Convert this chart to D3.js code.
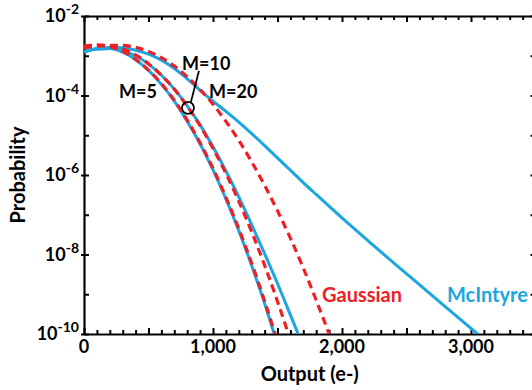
<!DOCTYPE html>
<html>
<head>
<meta charset="utf-8">
<script src="https://cdn.jsdelivr.net/npm/d3@7"></script>
<style>
  body { margin: 0; background: #fff; }
  text { font-family: Lato, "Open Sans", sans-serif; font-weight: 700; }
</style>
</head>
<body>
<div id="chart"></div>
<script>
// [output (e-), log10 probability]
const gaussM5 = [[0,-2.76],[100,-2.73],[200,-2.77],[300,-2.89],[400,-3.09],[500,-3.36],[600,-3.70],[700,-4.12],[800,-4.62],[900,-5.19],[1000,-5.83],[1100,-6.56],[1200,-7.35],[1300,-8.22],[1400,-9.17],[1490,-10.09]];
const gaussM10 = [[0,-2.78],[100,-2.73],[200,-2.75],[300,-2.83],[400,-2.98],[500,-3.20],[600,-3.49],[700,-3.84],[800,-4.27],[900,-4.76],[1000,-5.33],[1100,-5.96],[1200,-6.66],[1300,-7.43],[1400,-8.27],[1500,-9.18],[1590,-10.06]];
const gaussM20 = [[0,-2.80],[100,-2.76],[200,-2.74],[300,-2.74],[400,-2.79],[500,-2.89],[600,-3.05],[700,-3.26],[800,-3.53],[900,-3.85],[1000,-4.22],[1100,-4.65],[1200,-5.13],[1300,-5.67],[1400,-6.26],[1500,-6.90],[1600,-7.59],[1700,-8.34],[1800,-9.15],[1900,-10.00],[1910,-10.09]];
const mcM5 = [[0,-2.90],[100,-2.83],[200,-2.82],[300,-2.91],[400,-3.10],[500,-3.37],[600,-3.72],[700,-4.14],[800,-4.65],[900,-5.22],[1000,-5.87],[1100,-6.60],[1200,-7.40],[1300,-8.28],[1400,-9.23],[1470,-9.95],[1480,-10.05]];
const mcM10 = [[0,-2.90],[100,-2.83],[200,-2.82],[300,-2.87],[400,-3.00],[500,-3.21],[600,-3.49],[700,-3.84],[800,-4.26],[900,-4.74],[1000,-5.29],[1100,-5.90],[1200,-6.55],[1300,-7.25],[1400,-7.98],[1500,-8.73],[1600,-9.52],[1670,-10.08]];
const mcM20 = [[0,-2.90],[100,-2.82],[200,-2.79],[300,-2.80],[400,-2.86],[500,-2.96],[600,-3.11],[700,-3.32],[800,-3.58],[900,-3.87],[1000,-4.14],[1100,-4.40],[1200,-4.67],[1300,-4.96],[1400,-5.26],[1500,-5.57],[1600,-5.88],[1700,-6.19],[1800,-6.49],[2000,-7.08],[2200,-7.65],[2400,-8.21],[2600,-8.76],[2800,-9.31],[3000,-9.86],[3070,-10.05]];

const xLabelTicks = [0, 1000, 2000, 3000];
const yLabelExps = [-2, -4, -6, -8, -10];
const yAllExps = [-2, -3, -4, -5, -6, -7, -8, -9, -10];

const blue = '#1ba6e0', red = '#ec2027';
const W = 532, H = 390,
  plotL = 84, plotR = 535.5, plotT = 16, plotB = 334;

const x = d3.scaleLinear().domain([0, 3500]).range([plotL, plotR]);
const y = d3.scaleLog().domain([1e-10, 1e-2]).range([plotB, plotT]);
const fmt = d3.format(',');

const svg = d3.select('#chart').append('svg')
  .attr('width', W).attr('height', H);

svg.append('defs').append('clipPath').attr('id', 'plot')
  .append('rect').attr('x', plotL).attr('y', plotT)
  .attr('width', plotR - plotL).attr('height', plotB - plotT);

const minorX = d3.range(0, 3501, 100);

// bottom axis
const bx = svg.append('g')
  .attr('transform', `translate(0,${plotB})`)
  .call(d3.axisBottom(x).tickValues(minorX).tickSizeInner(-4).tickSizeOuter(0).tickFormat(''));
bx.selectAll('.tick line').attr('y2', d => d % 500 === 0 ? -6 : -4);
// top axis
const tx = svg.append('g')
  .attr('transform', `translate(0,${plotT})`)
  .call(d3.axisTop(x).tickValues(minorX).tickSizeInner(-4).tickSizeOuter(0).tickFormat(''));
tx.selectAll('.tick line').attr('y2', d => d % 500 === 0 ? 6 : 4);
// left axis
const lx = svg.append('g')
  .attr('transform', `translate(${plotL},0)`)
  .call(d3.axisLeft(y).tickValues(yAllExps.map(e => Math.pow(10, e))).tickSizeInner(-5).tickSizeOuter(0).tickFormat(''));
lx.selectAll('.tick line').attr('x1', d => Math.round(Math.log10(d)) % 2 === 0 ? -3 : 0);
// right axis
svg.append('g')
  .attr('transform', `translate(${plotR},0)`)
  .call(d3.axisRight(y).tickValues(yAllExps.map(e => Math.pow(10, e))).tickSizeInner(-5).tickSizeOuter(0).tickFormat(''));

svg.selectAll('.domain').attr('stroke', '#000').attr('stroke-width', 2.2);
svg.selectAll('.tick line').attr('stroke', '#000').attr('stroke-width', 2);

// tick labels
svg.append('g').selectAll('text')
  .data(xLabelTicks).enter().append('text')
  .attr('x', d => x(d)).attr('y', plotB + 19)
  .attr('text-anchor', 'middle').attr('font-size', 18)
  .text(d => fmt(d));

const yl = svg.append('g').selectAll('text')
  .data(yLabelExps).enter().append('text')
  .attr('x', plotL - 5).attr('y', d => y(Math.pow(10, d)) + 6)
  .attr('text-anchor', 'end').attr('font-size', 18);
yl.append('tspan').text('10');
yl.append('tspan').attr('dy', -8).attr('font-size', 14).text(d => d);

svg.append('text')
  .attr('x', (plotL + plotR) / 2).attr('y', 381)
  .attr('text-anchor', 'middle').attr('font-size', 20)
  .text('Output (e-)');
svg.append('text')
  .attr('transform', `translate(25,${(plotT + plotB) / 2}) rotate(-90)`)
  .attr('text-anchor', 'middle').attr('font-size', 20)
  .text('Probability');

// curves
const line = d3.line()
  .x(d => x(d[0]))
  .y(d => y(Math.pow(10, d[1])))
  .curve(d3.curveMonotoneX);

const plot = svg.append('g').attr('clip-path', 'url(#plot)');
[mcM5, mcM10, mcM20].forEach(s => {
  plot.append('path').datum(s)
    .attr('d', line).attr('fill', 'none')
    .attr('stroke', blue).attr('stroke-width', 3);
});
[gaussM5, gaussM10, gaussM20].forEach(s => {
  plot.append('path').datum(s)
    .attr('d', line).attr('fill', 'none')
    .attr('stroke', red).attr('stroke-width', 3.2)
    .attr('stroke-dasharray', '8,5');
});

// annotations
const ann = svg.append('g').attr('font-size', 18);
ann.append('text').attr('x', x(271)).attr('y', y(Math.pow(10, -4.06))).text('M=5');
ann.append('text').attr('x', x(760)).attr('y', y(Math.pow(10, -3.36))).text('M=10');
ann.append('text').attr('x', x(969)).attr('y', y(Math.pow(10, -4.06))).text('M=20');
ann.append('circle')
  .attr('cx', x(806)).attr('cy', y(Math.pow(10, -4.31))).attr('r', 6)
  .attr('fill', 'none').attr('stroke', '#000').attr('stroke-width', 1.8);
ann.append('line')
  .attr('x1', x(891)).attr('y1', y(Math.pow(10, -3.38)))
  .attr('x2', x(829)).attr('y2', y(Math.pow(10, -4.16)))
  .attr('stroke', '#000').attr('stroke-width', 1.8);
ann.append('text').attr('x', x(1845)).attr('y', y(Math.pow(10, -9.19)))
  .attr('font-size', 20).attr('fill', red).text('Gaussian');
ann.append('text').attr('x', x(2814)).attr('y', y(Math.pow(10, -9.19)))
  .attr('font-size', 20).attr('fill', blue).text('McIntyre');
</script>
</body>
</html>
